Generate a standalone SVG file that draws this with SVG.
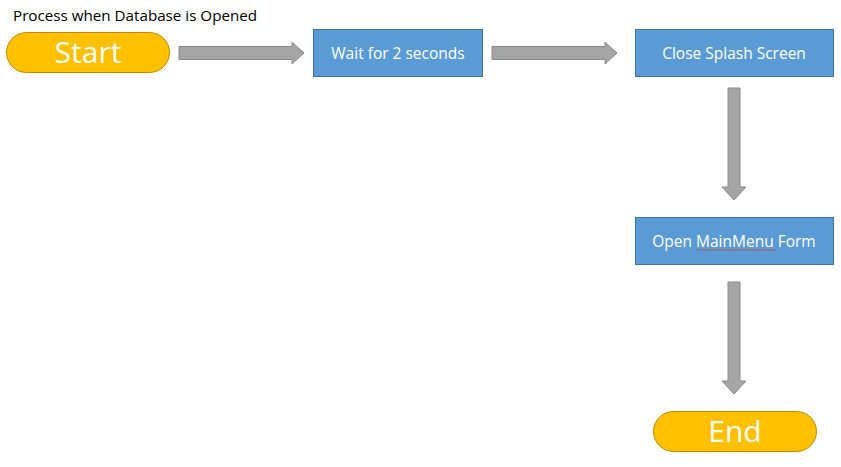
<svg xmlns="http://www.w3.org/2000/svg" width="841" height="467" viewBox="0 0 841 467">
<style>
.term{fill:#FFC000;stroke:#BC8C00;stroke-width:1}
.proc{fill:#5B9BD5;stroke:#41719C;stroke-width:1}
.arr{fill:#A5A5A5;stroke:#8A8A8A;stroke-width:1}
.big{font-family:"Open Sans","Liberation Sans",sans-serif;font-size:30px;fill:#fff;text-anchor:middle}
.lbl{font-family:"Open Sans","Liberation Sans",sans-serif;font-size:15.5px;fill:#fff;text-anchor:middle}
.title{font-family:"Open Sans","Liberation Sans",sans-serif;font-size:15.2px;fill:#000}
</style>
<rect width="841" height="467" fill="#fff"/>
<text class="title" x="13" y="21">Process when Database is Opened</text>
<g id="connectors">
<path class="arr" d="M179,46.5 H292 V42 L304,53 L292,64 V59.5 H179 Z"/>
<path class="arr" d="M492,46.5 H605 V42 L617,53 L605,64 V59.5 H492 Z"/>
<path class="arr" d="M728,88 H740 V187 H746 L734,200 L722,187 H728 Z"/>
<path class="arr" d="M728,282 H740 V381 H746 L734,394 L722,381 H728 Z"/>
</g>
<g id="start">
<rect class="term" x="6.5" y="32.5" width="163" height="40" rx="20" ry="20"/>
<text class="big" x="88" y="63">Start</text>
</g>
<g id="wait">
<rect class="proc" x="313.5" y="29.5" width="169" height="47"/>
<text class="lbl" x="398" y="58.5">Wait for 2 seconds</text>
</g>
<g id="close">
<rect class="proc" x="635.5" y="29.5" width="198" height="47"/>
<text class="lbl" x="734" y="58.5">Close Splash Screen</text>
</g>
<g id="open">
<rect class="proc" x="635.5" y="217.5" width="198" height="47"/>
<text class="lbl" x="734" y="246.5">Open MainMenu Form</text>
<path d="M696,250.5 l1.5,-1.5 l1.5,1.5 l1.5,-1.5 l1.5,1.5 l1.5,-1.5 l1.5,1.5 l1.5,-1.5 l1.5,1.5 l1.5,-1.5 l1.5,1.5 l1.5,-1.5 l1.5,1.5 l1.5,-1.5 l1.5,1.5 l1.5,-1.5 l1.5,1.5 l1.5,-1.5 l1.5,1.5 l1.5,-1.5 l1.5,1.5 l1.5,-1.5 l1.5,1.5 l1.5,-1.5 l1.5,1.5 l1.5,-1.5 l1.5,1.5 l1.5,-1.5 l1.5,1.5 l1.5,-1.5 l1.5,1.5 l1.5,-1.5 l1.5,1.5 l1.5,-1.5 l1.5,1.5 l1.5,-1.5 l1.5,1.5 l1.5,-1.5 l1.5,1.5 l1.5,-1.5 l1.5,1.5 l1.5,-1.5 l1.5,1.5 l1.5,-1.5 l1.5,1.5 l1.5,-1.5 l1.5,1.5 l1.5,-1.5 l1.5,1.5 l1.5,-1.5 l1.5,1.5 l1.5,-1.5 l1.5,1.5 l1.5,-1.5" fill="none" stroke="#E03030" stroke-width="0.8"/>
</g>
<g id="end">
<rect class="term" x="653.5" y="411.5" width="163" height="40" rx="20" ry="20"/>
<text class="big" x="735" y="442">End</text>
</g>
</svg>
